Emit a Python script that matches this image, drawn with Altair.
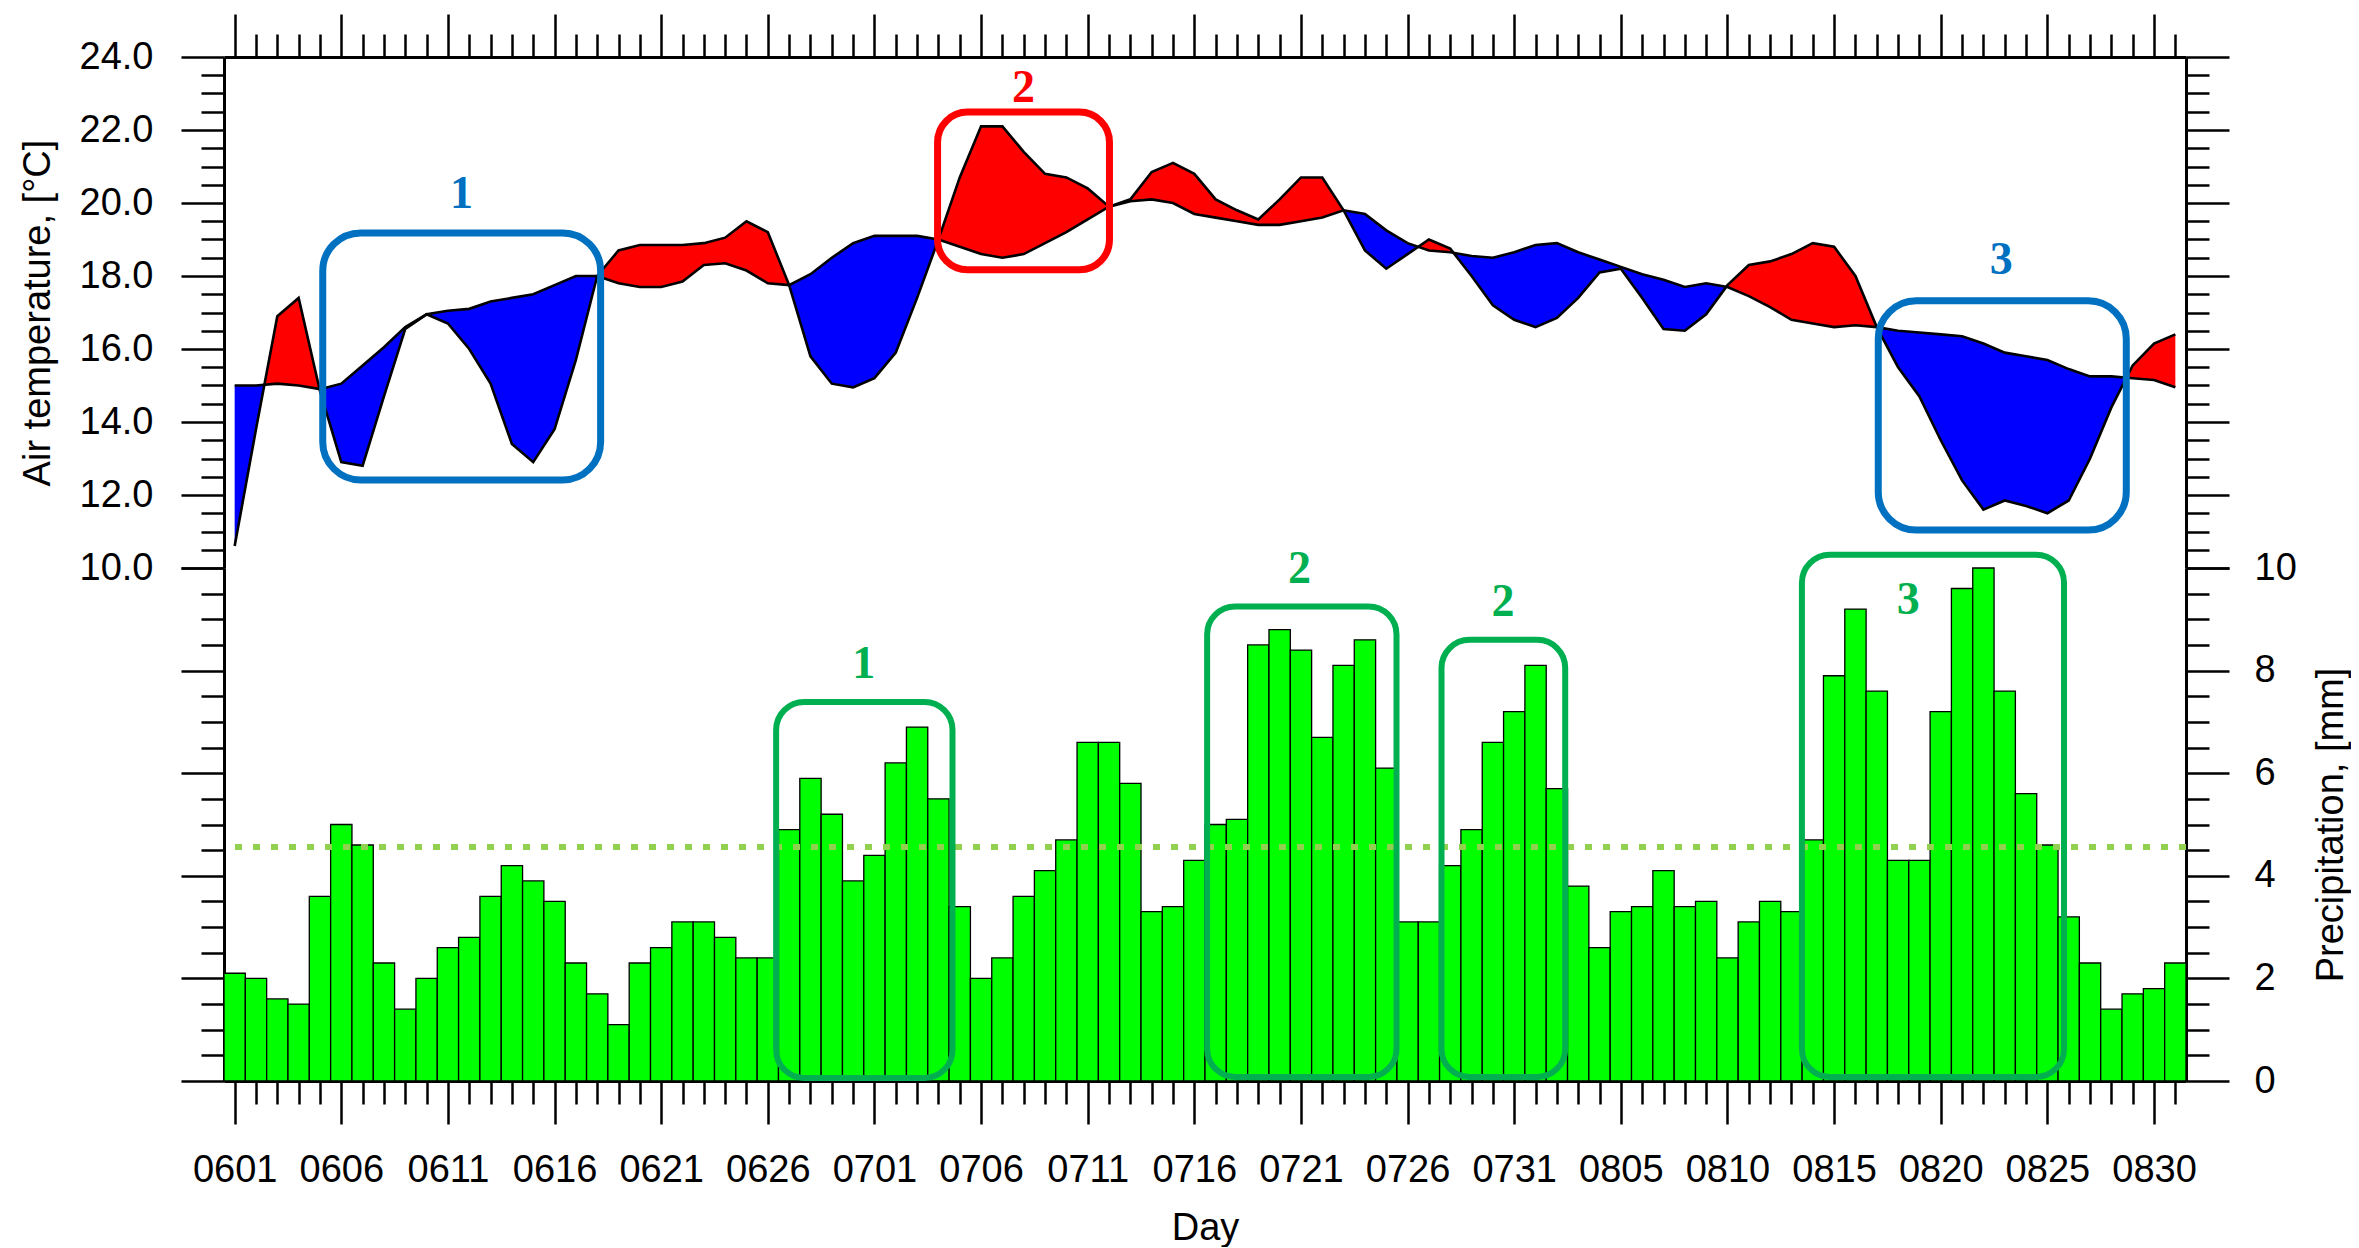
import json
import altair as alt
import pandas as pd

# ---------------- data ----------------
DAY_LABELS = [
    "0601", "0602", "0603", "0604", "0605", "0606", "0607", "0608", "0609", "0610",
    "0611", "0612", "0613", "0614", "0615", "0616", "0617", "0618", "0619", "0620",
    "0621", "0622", "0623", "0624", "0625", "0626", "0627", "0628", "0629", "0630",
    "0701", "0702", "0703", "0704", "0705", "0706", "0707", "0708", "0709", "0710",
    "0711", "0712", "0713", "0714", "0715", "0716", "0717", "0718", "0719", "0720",
    "0721", "0722", "0723", "0724", "0725", "0726", "0727", "0728", "0729", "0730",
    "0731", "0801", "0802", "0803", "0804", "0805", "0806", "0807", "0808", "0809",
    "0810", "0811", "0812", "0813", "0814", "0815", "0816", "0817", "0818", "0819",
    "0820", "0821", "0822", "0823", "0824", "0825", "0826", "0827", "0828", "0829",
    "0830", "0831",
]

TEMP_OBS = [
    10.6, 13.8, 16.9, 17.4, 14.85, 12.9, 12.8, 14.7, 16.55, 16.95,
    16.7, 16.0, 15.05, 13.4, 12.9, 13.8, 15.7, 18.0, 18.7, 18.85,
    18.85, 18.85, 18.9, 19.05, 19.5, 19.2, 17.75, 15.8, 15.05, 14.95,
    15.2, 15.9, 17.4, 19.0, 20.7, 22.1, 22.1, 21.4, 20.8, 20.7,
    20.4, 19.9, 20.1, 20.85, 21.1, 20.8, 20.1, 19.8, 19.55, 20.1,
    20.7, 20.7, 19.8, 18.7, 18.2, 18.6, 19.0, 18.75, 18.0, 17.2,
    16.8, 16.6, 16.85, 17.4, 18.1, 18.2, 17.4, 16.55, 16.5, 16.95,
    17.75, 18.3, 18.4, 18.6, 18.9, 18.8, 18.0, 16.6, 15.5, 14.7,
    13.5, 12.4, 11.6, 11.85, 11.7, 11.5, 11.85, 13.0, 14.4, 15.55,
    16.15, 16.4,
]

TEMP_REF = [
    15.0, 15.0, 15.05, 15.0, 14.9, 15.05, 15.55, 16.05, 16.6, 16.95,
    17.05, 17.1, 17.3, 17.4, 17.5, 17.75, 18.0, 18.0, 17.8, 17.7,
    17.7, 17.85, 18.3, 18.35, 18.15, 17.8, 17.75, 18.05, 18.5, 18.9,
    19.1, 19.1, 19.1, 19.0, 18.8, 18.6, 18.5, 18.6, 18.9, 19.2,
    19.55, 19.9, 20.05, 20.1, 20.0, 19.7, 19.6, 19.5, 19.4, 19.4,
    19.5, 19.6, 19.8, 19.7, 19.25, 18.9, 18.7, 18.65, 18.55, 18.5,
    18.65, 18.85, 18.9, 18.65, 18.45, 18.25, 18.05, 17.9, 17.7, 17.8,
    17.7, 17.45, 17.15, 16.8, 16.7, 16.6, 16.65, 16.6, 16.5, 16.45,
    16.4, 16.35, 16.15, 15.9, 15.8, 15.7, 15.45, 15.25, 15.25, 15.2,
    15.15, 14.95,
]

PRECIP = [
    2.1, 2.0, 1.6, 1.5, 3.6, 5.0, 4.6, 2.3, 1.4, 2.0,
    2.6, 2.8, 3.6, 4.2, 3.9, 3.5, 2.3, 1.7, 1.1, 2.3,
    2.6, 3.1, 3.1, 2.8, 2.4, 2.4, 4.9, 5.9, 5.2, 3.9,
    4.4, 6.2, 6.9, 5.5, 3.4, 2.0, 2.4, 3.6, 4.1, 4.7,
    6.6, 6.6, 5.8, 3.3, 3.4, 4.3, 5.0, 5.1, 8.5, 8.8,
    8.4, 6.7, 8.1, 8.6, 6.1, 3.1, 3.1, 4.2, 4.9, 6.6,
    7.2, 8.1, 5.7, 3.8, 2.6, 3.3, 3.4, 4.1, 3.4, 3.5,
    2.4, 3.1, 3.5, 3.3, 4.7, 7.9, 9.2, 7.6, 4.3, 4.3,
    7.2, 9.6, 10.0, 7.6, 5.6, 4.6, 3.2, 2.3, 1.4, 1.7,
    1.8, 2.3,
]

PRECIP_THRESHOLD = 4.56

# annotation boxes (data coordinates: day index, value)
TEMP_BLUE_BOXES = {"x0": [4.13, 77.07], "x1": [17.16, 88.7], "y0": [12.41, 11.04], "y1": [19.18, 17.32]}
TEMP_RED_BOXES = {"x0": [32.96], "x1": [41.02], "y0": [18.17], "y1": [22.49]}
TEMP_LABELS = {"x": [10.64, 82.84, 36.99], "y": [20.25, 18.44, 23.15],
               "label": ["1", "3", "2"], "kind": ["blue", "blue", "red"]}
PREC_BOXES = {"x0": [25.39, 45.6, 56.59, 73.49], "x1": [33.66, 54.48, 62.39, 85.78],
              "y0": [0.06, 0.08, 0.08, 0.08], "y1": [7.39, 9.25, 8.6, 10.26]}
PREC_LABELS = {"x": [29.5, 49.93, 59.47, 78.48], "y": [8.13, 9.98, 9.34, 9.38],
               "label": ["1", "2", "2", "3"]}

# ---------------- styling ----------------
FONT = "Liberation Sans"
SERIF = "Liberation Serif"
RED = "#ff0000"
BLUE = "#0000ff"
BOX_BLUE = "#0070c0"
BOX_GREEN = "#00b050"
BAR_GREEN = "#00ff00"
DOT_GREEN = "#92d050"

W = 1962
H_TOP = 511
H_BOT = 513

n = len(DAY_LABELS)
days = list(range(n))

# ---------------- tables for the library ----------------
# fill polygons between the two temperature curves (add the exact crossing points
# of the two polylines so that red/blue regions meet where the curves cross)
rows = []
for i in range(n):
    o, r = TEMP_OBS[i], TEMP_REF[i]
    rows.append({"x": i, "hi": max(o, r), "lo": min(o, r), "ref": r})
    if i < n - 1:
        d0 = o - r
        d1 = TEMP_OBS[i + 1] - TEMP_REF[i + 1]
        if d0 * d1 < 0:
            t = d0 / (d0 - d1)
            yc = r + t * (TEMP_REF[i + 1] - r)
            rows.append({"x": i + t, "hi": yc, "lo": yc, "ref": yc})
fill_df = pd.DataFrame(rows)
line_df = pd.DataFrame({"x": days, "obs": TEMP_OBS, "ref": TEMP_REF})
bar_df = pd.DataFrame({"x0": [d - 0.5 for d in days], "x1": [d + 0.5 for d in days],
                       "prec": PRECIP, "base": [0] * n})
thr_df = pd.DataFrame({"v": [PRECIP_THRESHOLD]})
tblue_df = pd.DataFrame(TEMP_BLUE_BOXES)
tred_df = pd.DataFrame(TEMP_RED_BOXES)
tlab_df = pd.DataFrame(TEMP_LABELS)
pbox_df = pd.DataFrame(PREC_BOXES)
plab_df = pd.DataFrame(PREC_LABELS)

# ---------------- scales & axes ----------------
xs = alt.Scale(domain=[-0.5, n - 0.5], nice=False, zero=False)
ts = alt.Scale(domain=[10, 24], nice=False, zero=False)
ps = alt.Scale(domain=[0, 10], nice=False, zero=False)

common = dict(domainColor="black", domainWidth=3, tickColor="black", tickWidth=2.5,
              grid=False, labelFont=FONT, labelFontSize=38, labelColor="black",
              titleFont=FONT, titleFontSize=38, titleFontWeight="normal",
              titleColor="black", labelFlush=False, labelOverlap=False)

tick_x = {"condition": {"test": "datum.value % 5 === 0", "value": 43}, "value": 23}
tick_y = {"condition": {"test": "datum.value % 2 === 0", "value": 43}, "value": 23}

temp_vals = [10 + 0.5 * k for k in range(29)]
prec_vals = [0.5 * k for k in range(21)]

x_top_axis = alt.Axis(orient="top", values=days, tickSize=tick_x, labels=False,
                      title=None, **common)
x_bot_axis = alt.Axis(orient="bottom", values=days, tickSize=tick_x,
                      labelExpr="datum.value % 5 === 0 ? " + json.dumps(DAY_LABELS)
                      + "[datum.value] : ''",
                      labelPadding=27, title="Day", titlePadding=20, **common)
y_temp_left = alt.Axis(orient="left", values=temp_vals, tickSize=tick_y,
                       labelExpr="datum.value % 2 === 0 ? format(datum.value, '.1f') : ''",
                       labelPadding=28, title="Air temperature, [°C]", titlePadding=22,
                       **common)
y_temp_right = alt.Axis(orient="right", values=temp_vals, tickSize=tick_y,
                        labels=False, title=None, **common)
y_prec_right = alt.Axis(orient="right", values=prec_vals, tickSize=tick_y,
                        labelExpr="datum.value % 2 === 0 ? format(datum.value, 'd') : ''",
                        labelPadding=25, title="Precipitation, [mm]", titleAngle=270,
                        titlePadding=54, **common)
y_prec_left = alt.Axis(orient="left", values=prec_vals, tickSize=tick_y,
                       labels=False, title=None, **common)

# ---------------- top panel: air temperature ----------------
def XT(f):
    return alt.X(f, type="quantitative", scale=xs, axis=x_top_axis)


def YT(f):
    return alt.Y(f, type="quantitative", scale=ts, axis=y_temp_left)


red_area = alt.Chart(fill_df).mark_area(color=RED).encode(x=XT("x"), y=YT("hi"), y2="ref:Q")
blue_area = alt.Chart(fill_df).mark_area(color=BLUE).encode(x=XT("x"), y=YT("lo"), y2="ref:Q")
obs_line = alt.Chart(line_df).mark_line(color="black", strokeWidth=2.6).encode(x=XT("x"), y=YT("obs"))
ref_line = alt.Chart(line_df).mark_line(color="black", strokeWidth=2.6).encode(x=XT("x"), y=YT("ref"))
tblue = alt.Chart(tblue_df).mark_rect(filled=False, color=BOX_BLUE, strokeWidth=7,
                                      cornerRadius=38).encode(
    x=XT("x0"), x2="x1:Q", y=YT("y0"), y2="y1:Q")
tred = alt.Chart(tred_df).mark_rect(filled=False, color=RED, strokeWidth=7,
                                    cornerRadius=30).encode(
    x=XT("x0"), x2="x1:Q", y=YT("y0"), y2="y1:Q")
tlab = alt.Chart(tlab_df).mark_text(font=SERIF, fontWeight="bold", fontSize=46,
                                    baseline="middle", align="center").encode(
    x=XT("x"), y=YT("y"), text="label:N",
    color=alt.Color("kind:N", scale=alt.Scale(domain=["blue", "red"], range=[BOX_BLUE, RED]),
                    legend=None))
t_right = alt.Chart(line_df).mark_line(opacity=0).encode(
    x=XT("x"), y=alt.Y("obs:Q", scale=ts, axis=y_temp_right))

top = alt.layer(
    alt.layer(red_area, blue_area, obs_line, ref_line, tblue, tred, tlab),
    t_right,
).resolve_scale(y="independent").properties(width=W, height=H_TOP)

# ---------------- bottom panel: precipitation ----------------
def XB(f):
    return alt.X(f, type="quantitative", scale=xs, axis=x_bot_axis)


def YB(f):
    return alt.Y(f, type="quantitative", scale=ps, axis=y_prec_right)


bars = alt.Chart(bar_df).mark_rect(fill=BAR_GREEN, stroke="black", strokeWidth=1.3).encode(
    x=XB("x0"), x2="x1:Q", y=YB("prec"), y2="base:Q")
thr = alt.Chart(thr_df).mark_rule(color=DOT_GREEN, strokeWidth=6, strokeDash=[7, 11]).encode(
    y=YB("v"))
pbox = alt.Chart(pbox_df).mark_rect(filled=False, color=BOX_GREEN, strokeWidth=6,
                                    cornerRadius=28).encode(
    x=XB("x0"), x2="x1:Q", y=YB("y0"), y2="y1:Q")
plab = alt.Chart(plab_df).mark_text(font=SERIF, fontWeight="bold", fontSize=46,
                                    baseline="middle", align="center",
                                    color=BOX_GREEN).encode(
    x=XB("x"), y=YB("y"), text="label:N")
p_left = alt.Chart(bar_df).mark_rect(opacity=0).encode(
    x=XB("x0"), x2="x1:Q", y=alt.Y("prec:Q", scale=ps, axis=y_prec_left), y2="base:Q")

bottom = alt.layer(
    alt.layer(bars, thr, pbox, plab),
    p_left,
).resolve_scale(y="independent").properties(width=W, height=H_BOT)

chart = alt.vconcat(top, bottom, spacing=0, bounds="flush").properties(
    padding={"left": 11, "top": 4, "right": 0, "bottom": 0}
).configure(background="white").configure_view(stroke="transparent", strokeWidth=0)

chart.save("out.html", embed_options={"renderer": "svg", "actions": False})
